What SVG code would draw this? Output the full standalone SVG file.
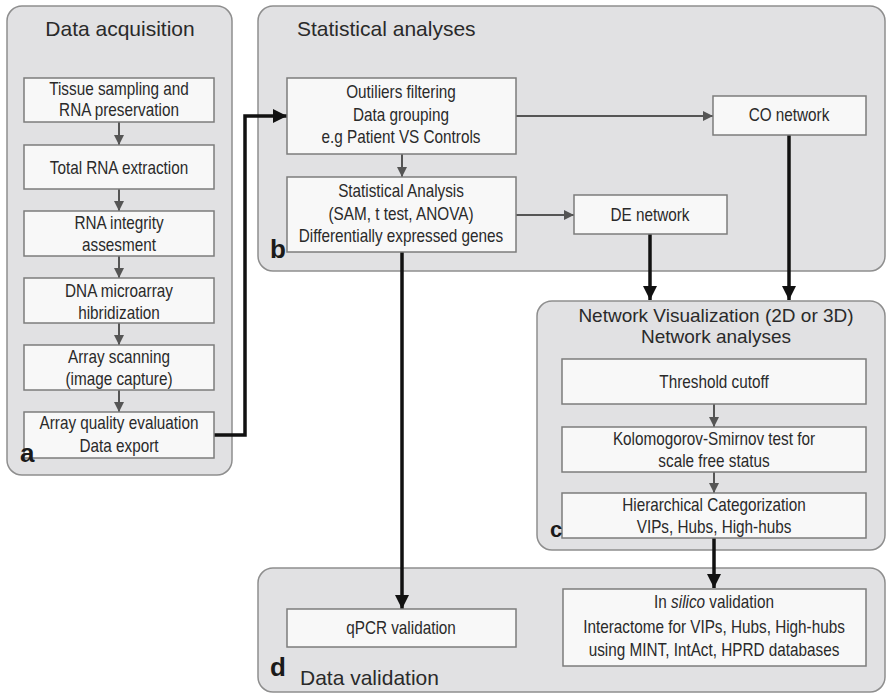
<svg xmlns="http://www.w3.org/2000/svg" width="887" height="694" viewBox="0 0 887 694">
<style>
.panel{fill:#e1e1e3;stroke:#8e8e8e;stroke-width:1.5}
.box{fill:#f8f8f8;stroke:#7c7c7c;stroke-width:1.5}
.t{font-family:"Liberation Sans",Arial,sans-serif;font-size:18px;fill:#2a2a2a;text-anchor:middle}
.title{font-family:"Liberation Sans",Arial,sans-serif;font-size:21px;fill:#2a2a2a}
.lbl{font-family:"Liberation Sans",Arial,sans-serif;font-size:26px;font-weight:bold;fill:#1a1a1a}
.ga{fill:none;stroke:#555;stroke-width:2;marker-end:url(#gh)}
.ka{fill:none;stroke:#111;stroke-width:3.5;marker-end:url(#kh)}
</style>
<defs>
<marker id="gh" markerUnits="userSpaceOnUse" markerWidth="10" markerHeight="10" refX="10" refY="5" orient="auto"><path d="M0,0 L10,5 L0,10 z" fill="#555"/></marker>
<marker id="kh" markerUnits="userSpaceOnUse" markerWidth="14" markerHeight="14" refX="14" refY="7" orient="auto"><path d="M0,0 L14,7 L0,14 z" fill="#111"/></marker>
</defs>
<rect width="887" height="694" fill="#ffffff"/>

<g id="panel-a">
<rect class="panel" x="7" y="6" width="225" height="469" rx="15"/>
<text class="title" x="120" y="36" text-anchor="middle">Data acquisition</text>
</g>
<g id="panel-b">
<rect class="panel" x="258" y="6" width="627" height="265" rx="15"/>
<text class="title" x="297" y="36">Statistical analyses</text>
</g>
<g id="panel-c">
<rect class="panel" x="537" y="301" width="348" height="249" rx="15"/>
<text class="title" x="716" y="322" text-anchor="middle" style="font-size:19px">Network Visualization (2D or 3D)</text>
<text class="title" x="716" y="343" text-anchor="middle" style="font-size:19px">Network analyses</text>
</g>
<g id="panel-d">
<rect class="panel" x="258" y="568" width="627" height="124" rx="15"/>
</g>

<g id="connectors">
<path class="ga" d="M119,122 V145"/>
<path class="ga" d="M119,189 V211"/>
<path class="ga" d="M119,256 V278"/>
<path class="ga" d="M119,323 V345"/>
<path class="ga" d="M119,390 V412"/>
<path class="ka" d="M214,435 H245 V116 H287"/>
<path class="ga" d="M516,116 H713"/>
<path class="ga" d="M402,154 V177"/>
<path class="ga" d="M516,215 H574"/>
<path class="ka" d="M650,234 V300"/>
<path class="ka" d="M789,135 V300"/>
<path class="ga" d="M714,404 V427"/>
<path class="ga" d="M714,472 V493"/>
<path class="ka" d="M402,252 V609"/>
<path class="ka" d="M714,538 V588"/>
</g>

<g id="tissue">
<rect class="box" x="24" y="78" width="190" height="44"/>
<text class="t" transform="translate(119,95) scale(0.85,1)">Tissue sampling and</text>
<text class="t" transform="translate(119,116) scale(0.85,1)">RNA preservation</text>
</g>
<g id="total-rna">
<rect class="box" x="24" y="145" width="190" height="44"/>
<text class="t" transform="translate(119,174) scale(0.85,1)">Total RNA extraction</text>
</g>
<g id="integrity">
<rect class="box" x="24" y="211" width="190" height="45"/>
<text class="t" transform="translate(119,229) scale(0.85,1)">RNA integrity</text>
<text class="t" transform="translate(119,251) scale(0.85,1)">assesment</text>
</g>
<g id="microarray">
<rect class="box" x="24" y="278" width="190" height="45"/>
<text class="t" transform="translate(119,297) scale(0.85,1)">DNA microarray</text>
<text class="t" transform="translate(119,319) scale(0.85,1)">hibridization</text>
</g>
<g id="scanning">
<rect class="box" x="24" y="345" width="190" height="45"/>
<text class="t" transform="translate(119,363) scale(0.85,1)">Array scanning</text>
<text class="t" transform="translate(119,385) scale(0.85,1)">(image capture)</text>
</g>
<g id="quality">
<rect class="box" x="24" y="412" width="190" height="46"/>
<text class="t" transform="translate(119,429) scale(0.85,1)">Array quality evaluation</text>
<text class="t" transform="translate(119,452) scale(0.85,1)">Data export</text>
<text class="lbl" x="20" y="462">a</text>
</g>

<g id="outliers">
<rect class="box" x="287" y="78" width="229" height="76"/>
<text class="t" transform="translate(401,98) scale(0.85,1)">Outiliers filtering</text>
<text class="t" transform="translate(401,121) scale(0.85,1)">Data grouping</text>
<text class="t" transform="translate(401,143) scale(0.85,1)">e.g Patient VS Controls</text>
</g>
<g id="stat-analysis">
<rect class="box" x="287" y="177" width="229" height="75"/>
<text class="t" transform="translate(401,197) scale(0.85,1)">Statistical Analysis</text>
<text class="t" transform="translate(401,220) scale(0.85,1)">(SAM, t test, ANOVA)</text>
<text class="t" transform="translate(401,242) scale(0.85,1)">Differentially expressed genes</text>
<text class="lbl" x="270" y="258">b</text>
</g>
<g id="co-network">
<rect class="box" x="713" y="96" width="153" height="39"/>
<text class="t" transform="translate(789,121) scale(0.85,1)">CO network</text>
</g>
<g id="de-network">
<rect class="box" x="574" y="195" width="153" height="39"/>
<text class="t" transform="translate(650,221) scale(0.85,1)">DE network</text>
</g>

<g id="threshold">
<rect class="box" x="562" y="359" width="304" height="45"/>
<text class="t" transform="translate(714,388) scale(0.85,1)">Threshold cutoff</text>
</g>
<g id="ks-test">
<rect class="box" x="562" y="427" width="304" height="45"/>
<text class="t" transform="translate(714,445) scale(0.85,1)">Kolomogorov-Smirnov test for</text>
<text class="t" transform="translate(714,467) scale(0.85,1)">scale free status</text>
</g>
<g id="hierarchical">
<rect class="box" x="562" y="493" width="304" height="45"/>
<text class="t" transform="translate(714,511) scale(0.85,1)">Hierarchical Categorization</text>
<text class="t" transform="translate(714,533) scale(0.85,1)">VIPs, Hubs, High-hubs</text>
<text class="lbl" x="550" y="537" style="font-size:22px">c</text>
</g>

<g id="qpcr">
<rect class="box" x="287" y="609" width="229" height="38"/>
<text class="t" transform="translate(401,634) scale(0.85,1)">qPCR validation</text>
</g>
<g id="insilico">
<rect class="box" x="563" y="589" width="303" height="77"/>
<text class="t" transform="translate(714,608) scale(0.85,1)">In <tspan font-style="italic">silico</tspan> validation</text>
<text class="t" transform="translate(714,633) scale(0.85,1)">Interactome for VIPs, Hubs, High-hubs</text>
<text class="t" transform="translate(714,656) scale(0.85,1)">using MINT, IntAct, HPRD databases</text>
</g>
<g id="data-validation">
<text class="lbl" x="270" y="676">d</text>
<text class="title" x="300" y="685">Data validation</text>
</g>
</svg>
